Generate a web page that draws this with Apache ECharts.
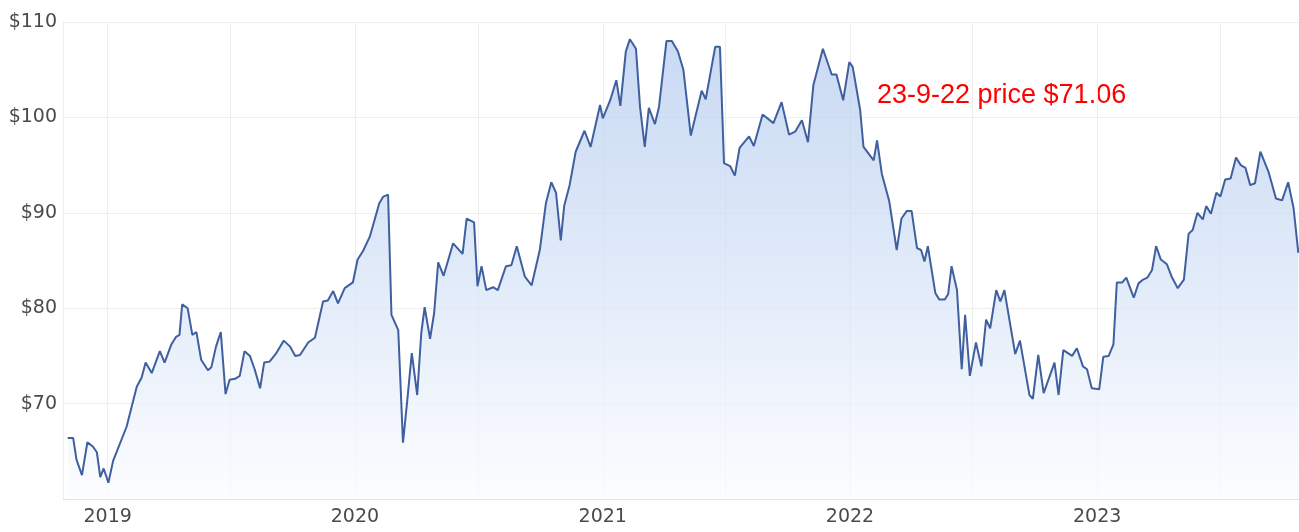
<!DOCTYPE html>
<html>
<head>
<meta charset="utf-8">
<script src="https://cdn.jsdelivr.net/npm/echarts@6/dist/echarts.min.js"></script>
<style>
html,body{margin:0;padding:0;background:#fff;}
#chart{width:1299px;height:532px;}
</style>
</head>
<body>
<div id="chart"></div>
<script>
const dates = [
'2018-11-03','2018-11-11','2018-11-16','2018-11-24','2018-12-02','2018-12-10','2018-12-16','2018-12-21','2018-12-26',
'2019-01-02','2019-01-09','2019-01-29','2019-02-13','2019-02-20','2019-02-26','2019-03-07','2019-03-19','2019-03-26',
'2019-04-05','2019-04-12','2019-04-17','2019-04-21','2019-04-29','2019-05-06','2019-05-12','2019-05-19','2019-05-29',
'2019-06-03','2019-06-10','2019-06-17','2019-06-24','2019-06-30','2019-07-08','2019-07-15','2019-07-22','2019-07-30',
'2019-08-06','2019-08-14','2019-08-20','2019-08-28','2019-09-07','2019-09-18','2019-09-27','2019-10-05','2019-10-12',
'2019-10-24','2019-11-03','2019-11-15','2019-11-22','2019-11-30','2019-12-07','2019-12-17','2019-12-29',
'2020-01-05','2020-01-13','2020-01-23','2020-02-06','2020-02-12','2020-02-19','2020-02-24','2020-03-05','2020-03-12',
'2020-03-18','2020-03-25','2020-04-02','2020-04-08','2020-04-13','2020-04-21','2020-04-27','2020-05-03','2020-05-11',
'2020-05-25','2020-06-08','2020-06-14','2020-06-25','2020-06-30','2020-07-06','2020-07-13','2020-07-23','2020-07-30',
'2020-08-11','2020-08-19','2020-08-27','2020-09-08','2020-09-18','2020-09-30','2020-10-09','2020-10-17','2020-10-24',
'2020-10-31','2020-11-05','2020-11-13','2020-11-22','2020-12-05','2020-12-14','2020-12-28',
'2021-01-01','2021-01-12','2021-01-21','2021-01-27','2021-02-04','2021-02-10','2021-02-19','2021-02-25','2021-03-04',
'2021-03-10','2021-03-19','2021-03-25','2021-04-05','2021-04-13','2021-04-22','2021-04-30','2021-05-11','2021-05-27',
'2021-06-02','2021-06-16','2021-06-23','2021-06-29','2021-07-08','2021-07-15','2021-07-22','2021-08-05','2021-08-12',
'2021-08-25','2021-09-10','2021-09-22','2021-10-03','2021-10-12','2021-10-22','2021-10-31','2021-11-08','2021-11-22',
'2021-12-05','2021-12-12','2021-12-22','2021-12-31',
'2022-01-05','2022-01-16','2022-01-21','2022-02-05','2022-02-10','2022-02-17','2022-02-28','2022-03-11','2022-03-18',
'2022-03-26','2022-04-02','2022-04-10','2022-04-16','2022-04-21','2022-04-26','2022-05-07','2022-05-13','2022-05-21',
'2022-05-26','2022-05-31','2022-06-08','2022-06-15','2022-06-20','2022-06-27','2022-07-06','2022-07-14','2022-07-21',
'2022-07-27','2022-08-05','2022-08-11','2022-08-17','2022-09-02','2022-09-09','2022-09-23','2022-09-28','2022-10-06',
'2022-10-14','2022-10-30','2022-11-05','2022-11-12','2022-11-25','2022-12-02','2022-12-11','2022-12-17','2022-12-24',
'2023-01-04','2023-01-10','2023-01-18','2023-01-25','2023-01-30','2023-02-07','2023-02-13','2023-02-24','2023-03-03',
'2023-03-10','2023-03-16','2023-03-23','2023-03-29','2023-04-05','2023-04-14','2023-04-21','2023-04-30','2023-05-09',
'2023-05-16','2023-05-22','2023-05-29','2023-06-06','2023-06-11','2023-06-18','2023-06-26','2023-07-02','2023-07-09',
'2023-07-17','2023-07-25','2023-08-01','2023-08-08','2023-08-15','2023-08-22','2023-08-30','2023-09-11','2023-09-22',
'2023-10-01','2023-10-10','2023-10-18','2023-10-25'
];
const prices = [
66.4,66.4,64.1,62.5,65.95,65.5,64.9,62.3,63.2,
61.7,64.0,67.6,71.8,72.7,74.3,73.2,75.5,74.3,
76.2,77.0,77.2,80.4,80.0,77.2,77.5,74.6,73.5,
73.8,76.0,77.5,71.0,72.5,72.6,72.9,75.5,75.0,
73.6,71.6,74.3,74.4,75.3,76.6,76.0,75.0,75.1,
76.4,76.9,80.7,80.8,81.8,80.5,82.1,82.7,
85.1,86.0,87.5,91.0,91.7,91.9,79.3,77.7,65.9,
70.1,75.3,70.9,77.4,80.1,76.8,79.5,84.8,83.4,
86.8,85.7,89.4,89.0,82.3,84.4,81.9,82.2,81.9,
84.4,84.5,86.5,83.3,82.4,86.1,91.0,93.2,92.1,
87.1,90.7,92.9,96.4,98.6,96.9,101.3,
99.9,101.8,103.9,101.2,106.9,108.2,107.2,101.1,96.9,
101.0,99.3,101.1,108.0,108.0,106.9,105.0,98.1,102.8,
101.9,107.4,107.4,95.2,94.9,93.9,96.8,98.0,97.0,
100.3,99.4,101.6,98.2,98.5,99.7,97.4,103.4,107.2,
104.5,104.5,101.8,105.8,
105.3,100.8,96.9,95.5,97.6,94.1,91.2,86.1,89.4,
90.2,90.2,86.3,86.1,84.9,86.5,81.6,80.9,80.9,
81.5,84.4,81.9,73.6,79.3,72.9,76.4,73.9,78.8,
77.9,81.9,80.7,81.9,75.2,76.6,70.9,70.5,75.1,
71.1,74.3,70.9,75.6,75.0,75.8,73.9,73.6,71.6,
71.5,74.9,75.0,76.2,82.7,82.7,83.2,81.1,82.6,
83.0,83.2,84.0,86.5,85.1,84.6,83.3,82.1,83.0,
87.8,88.2,90.0,89.3,90.7,89.9,92.1,91.7,93.5,
93.6,95.8,95.0,94.7,92.9,93.1,96.4,94.3,91.5,
91.3,93.2,90.5,85.8
];
const yTicks = [60, 70, 80, 90, 100, 110];
const annotationText = '23-9-22 price $71.06';

const seriesData = dates.map((d, i) => [d, prices[i]]);

const chart = echarts.init(document.getElementById('chart'), null, {renderer: 'canvas'});
const HALF_YEAR = 183 * 24 * 3600 * 1000;
chart.setOption({
  animation: false,
  backgroundColor: '#ffffff',
  grid: {left: 63, right: 0, top: 22, bottom: 33, containLabel: false},
  xAxis: {
    type: 'time',
    min: '2018-10-27',
    max: '2023-10-26',
    minInterval: HALF_YEAR,
    maxInterval: HALF_YEAR,
    axisLine: {show: true, lineStyle: {color: '#e3e3e3', width: 1}},
    axisTick: {show: false},
    splitLine: {show: true, lineStyle: {color: '#eeeeee', width: 1}},
    axisLabel: {
      color: '#4a4a4a',
      fontFamily: 'DejaVu Sans',
      fontSize: 19,
      margin: 9,
      hideOverlap: false,
      showMinLabel: false,
      showMaxLabel: false,
      formatter: function (v) {
        const d = new Date(v);
        return (d.getMonth() === 0 && d.getDate() === 1) ? String(d.getFullYear()) : '';
      }
    }
  },
  yAxis: {
    type: 'value',
    min: yTicks[0],
    max: yTicks[yTicks.length - 1],
    interval: 10,
    axisLine: {show: true, lineStyle: {color: '#eeeeee', width: 1}},
    axisTick: {show: false},
    splitLine: {show: true, lineStyle: {color: '#eeeeee', width: 1}},
    axisLabel: {
      color: '#4a4a4a',
      fontFamily: 'DejaVu Sans',
      fontSize: 19,
      margin: 6,
      formatter: function (v) { return v === yTicks[0] ? '' : '$' + v; }
    }
  },
  series: [{
    type: 'line',
    data: seriesData,
    showSymbol: false,
    symbol: 'none',
    smooth: false,
    lineStyle: {color: '#3f5f9f', width: 2},
    areaStyle: {
      color: new echarts.graphic.LinearGradient(0, 0, 0, 1, [
        {offset: 0, color: '#b2caee'},
        {offset: 0.5, color: '#d3e1f6'},
        {offset: 1, color: '#fbfcff'}
      ])
    }
  }],
  graphic: [{
    type: 'text',
    left: 877,
    top: 82,
    style: {
      text: annotationText,
      fill: '#ff0000',
      font: '27px "Liberation Sans", Arial, sans-serif'
    }
  }]
});
</script>
</body>
</html>
